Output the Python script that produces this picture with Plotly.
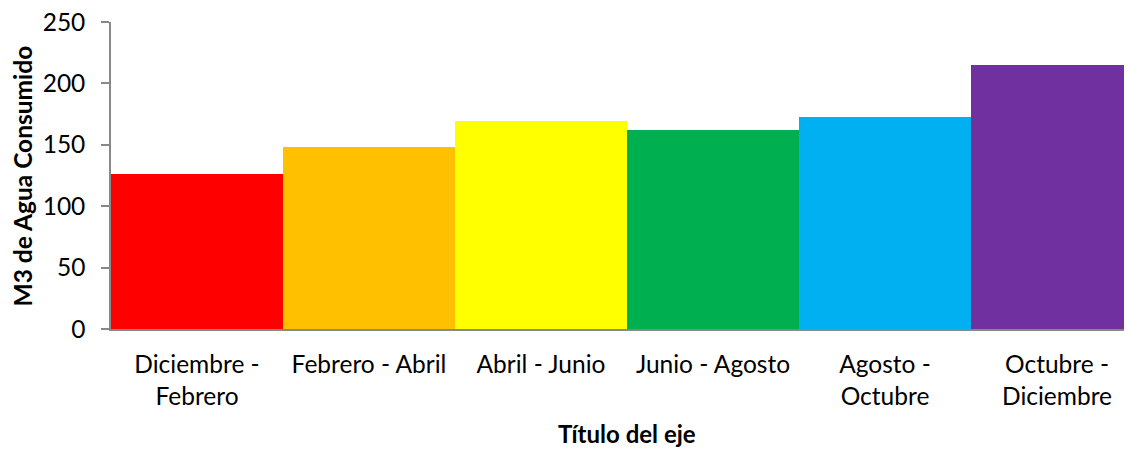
import plotly.graph_objects as go

categories = ["Diciembre -<br>Febrero", "Febrero - Abril", "Abril - Junio",
              "Junio - Agosto", "Agosto -<br>Octubre", "Octubre -<br>Diciembre"]
values = [126, 148.5, 169, 162, 173, 215]
colors = ["#FF0000", "#FFC000", "#FFFF00", "#00B050", "#00B0F0", "#7030A0"]
y_ticks = [0, 50, 100, 150, 200, 250]

# page body has an 8px default margin; compensate so the screen layout matches
OFF = 8
W, H = 1132 - OFF, 449 - OFF
ML, MR, MT = 111 - OFF, 0, 22 - OFF
MB = H - (329.5 - OFF)
FONT = "Lato"

fig = go.Figure(go.Bar(x=categories, y=values, marker=dict(color=colors, line=dict(width=0)),
                       width=1.0))

plot_w = W - ML - MR
plot_h = H - MT - MB
unit_px = 172.0
xmax = -0.5 + plot_w / unit_px

def px_x(sx):
    return (sx - 111) / plot_w

def px_y(sy):
    return (329.5 - sy) / plot_h

fig.update_layout(
    width=W, height=H,
    margin=dict(l=ML, r=MR, t=MT, b=MB, pad=0),
    paper_bgcolor="white", plot_bgcolor="white",
    bargap=0, showlegend=False,
    font=dict(family=FONT, color="black", size=24.5),
    xaxis=dict(range=[-0.5, xmax], showline=True, linecolor="#888888", linewidth=1.5,
               ticks="", showgrid=False, tickfont=dict(size=24.5), ticklabelstandoff=13,
               fixedrange=True),
    yaxis=dict(range=[0, 250.02], tickvals=y_ticks, showline=True, linecolor="#888888",
               linewidth=1.5, ticks="outside", ticklen=8, tickcolor="#888888", tickwidth=1.5,
               showgrid=False, zeroline=False, tickfont=dict(size=24.5), ticklabelstandoff=11,
               ticklabeloverflow="allow", fixedrange=True),
    annotations=[
        dict(text="<b>M3 de Agua Consumido</b>", xref="paper", yref="paper",
             x=px_x(22.7), y=px_y(176), xanchor="center", yanchor="middle",
             textangle=-90, showarrow=False, font=dict(size=24.5, family=FONT)),
        dict(text="<b>Título del eje</b>", xref="paper", yref="paper",
             x=px_x(627), y=px_y(434), xanchor="center", borderpad=0,
             yanchor="middle", showarrow=False, font=dict(size=24, family=FONT)),
    ],
)

fig.write_html("out.html")
